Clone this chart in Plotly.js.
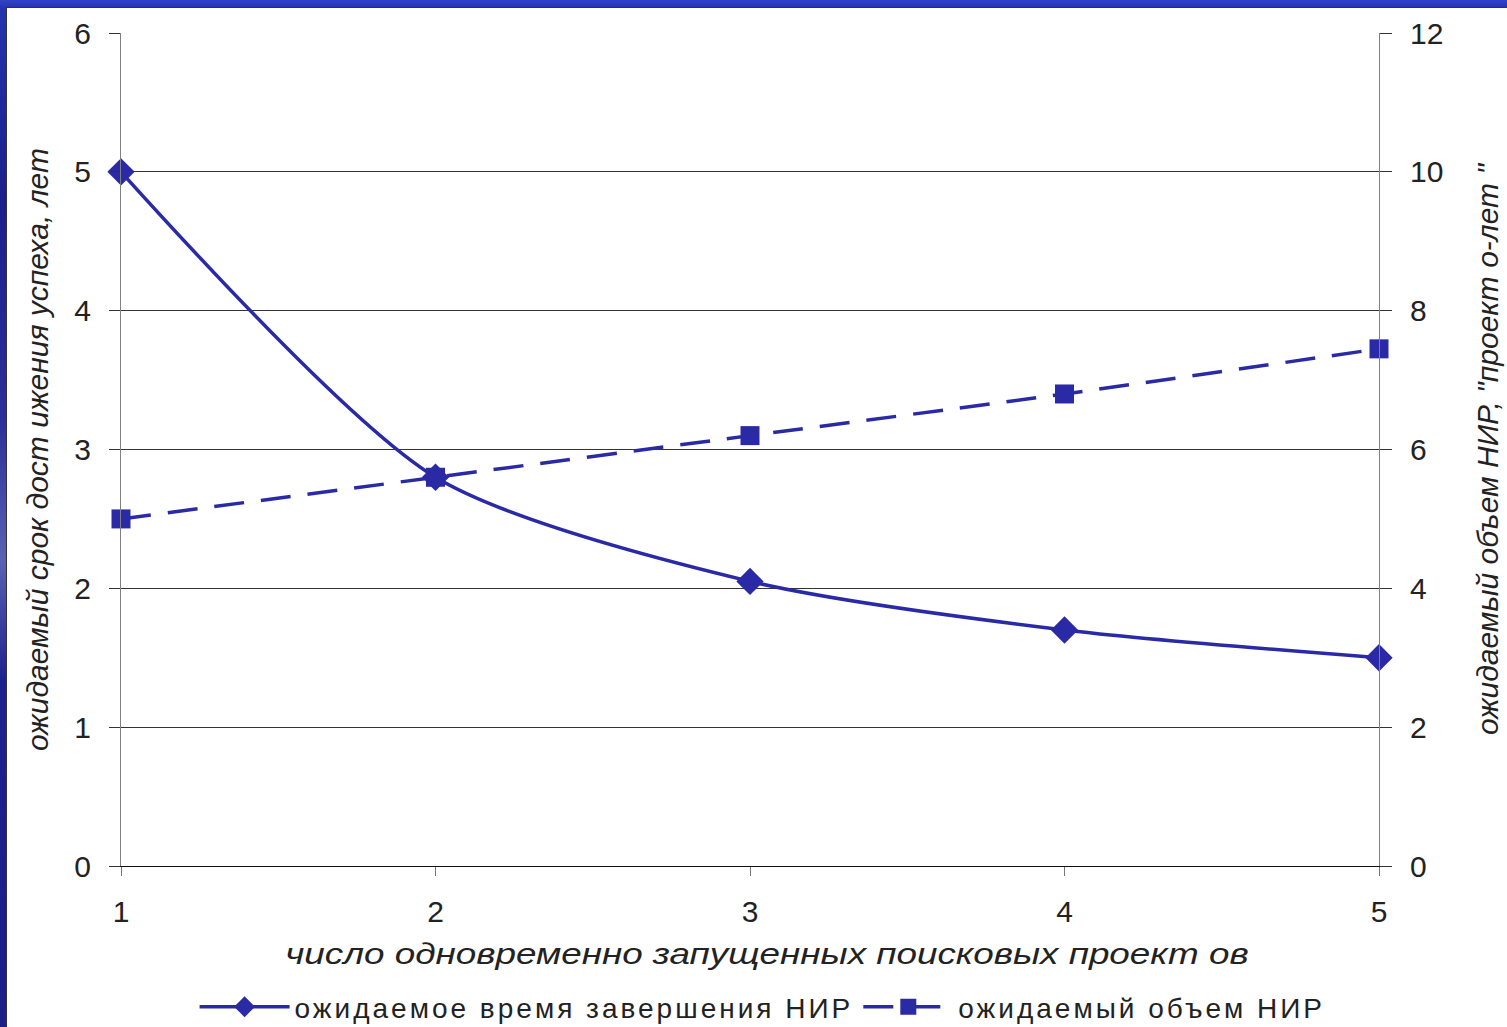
<!DOCTYPE html>
<html>
<head>
<meta charset="utf-8">
<script src="https://cdn.plot.ly/plotly-3.0.1.min.js"></script>
<style>
  html, body { margin: 0; padding: 0; }
  body {
    width: 1507px; height: 1027px; overflow: hidden; position: relative;
    background: linear-gradient(180deg, #3343c8 0px, #2433ae 8px, #1a1f8c 200px, #2a2f9a 420px, #5a62b0 560px, #1c2190 680px, #1b1f86 1027px);
  }
  #chart {
    position: absolute; left: 7px; top: 8px; width: 1500px; height: 1019px;
    background: #ffffff; box-shadow: -1px -1px 0 #333;
  }
  /* wide-set lettering of the bottom captions */
  #chart .xtitle {
    transform-box: fill-box; transform-origin: center; transform: translateX(17px) scaleX(1.27);
  }
  .legendtext { letter-spacing: 3px; }
</style>
</head>
<body>
<div id="chart"></div>
<script>
// Number of search projects launched at the same time
const projects = [1, 2, 3, 4, 5];
// Expected time to reach success, years (left axis)
const expectedTime = [5.0, 2.8, 2.05, 1.7, 1.5];
// Expected research volume, project-years (right axis)
const expectedVolume = [5.0, 5.6, 6.2, 6.8, 7.45];

const xTicks = [1, 2, 3, 4, 5];
const leftTicks = [0, 1, 2, 3, 4, 5, 6];
const rightTicks = [0, 2, 4, 6, 8, 10, 12];

const ink = '#2a2aa6';
const txt = '#222222';
const fontFam = '"Liberation Sans", Arial, sans-serif';

const traces = [
  {
    x: projects, y: expectedTime, name: 'ожидаемое время завершения НИР',
    type: 'scatter', mode: 'lines+markers', yaxis: 'y', cliponaxis: false,
    line: { color: ink, width: 3.5, shape: 'spline', smoothing: 0.75 },
    marker: { symbol: 'diamond', size: 21, color: ink }
  },
  {
    x: projects, y: expectedVolume, name: 'ожидаемый объем НИР',
    type: 'scatter', mode: 'lines+markers', yaxis: 'y2', cliponaxis: false,
    line: { color: ink, width: 3.5, dash: '30px,17px', shape: 'spline', smoothing: 0.5 },
    marker: { symbol: 'square', size: 19, color: ink }
  }
];

const layout = {
  width: 1500, height: 1019,
  margin: { l: 114, r: 128, t: 25, b: 161 },
  paper_bgcolor: 'rgba(0,0,0,0)', plot_bgcolor: '#ffffff',
  font: { family: fontFam, color: txt, size: 30 },
  showlegend: true,
  legend: {
    orientation: 'h', x: 0.51, xanchor: 'center',
    yref: 'container', y: 0.0196, yanchor: 'middle',
    itemwidth: 90,
    font: { size: 28, color: txt }, bgcolor: 'rgba(0,0,0,0)'
  },
  xaxis: {
    range: [1, 5], tickvals: xTicks, ticktext: xTicks.map(String),
    showgrid: false, zeroline: false,
    showline: true, linecolor: '#111', linewidth: 1,
    ticks: 'outside', ticklen: 9, tickcolor: '#777', ticklabelstandoff: 10,
    tickfont: { size: 30, color: txt },
    title: { text: 'число одновременно запущенных поисковых проект ов', font: { size: 29, style: 'italic', color: txt }, standoff: 16 }
  },
  yaxis: {
    range: [0, 6], tickvals: leftTicks, ticktext: leftTicks.map(String),
    showgrid: true, gridcolor: '#333', gridwidth: 1, zeroline: false,
    showline: true, linecolor: '#808080', linewidth: 1,
    ticks: 'outside', ticklen: 11, tickcolor: '#333', ticklabelstandoff: 12,
    tickfont: { size: 30, color: txt },
    title: { text: 'ожидаемый срок дост ижения успеха, лет', font: { size: 30, style: 'italic', color: txt }, standoff: 16 }
  },
  yaxis2: {
    range: [0, 12], tickvals: rightTicks, ticktext: rightTicks.map(String),
    overlaying: 'y', side: 'right', showgrid: false, zeroline: false,
    showline: true, linecolor: '#808080', linewidth: 1,
    ticks: 'outside', ticklen: 12, tickcolor: '#333', ticklabelstandoff: 12,
    tickfont: { size: 30, color: txt },
    title: { text: 'ожидаемый объем НИР, "проект о-лет "', font: { size: 30, style: 'italic', color: txt }, standoff: 34 }
  }
};

Plotly.newPlot('chart', traces, layout, { displayModeBar: false, staticPlot: true });
</script>
</body>
</html>
